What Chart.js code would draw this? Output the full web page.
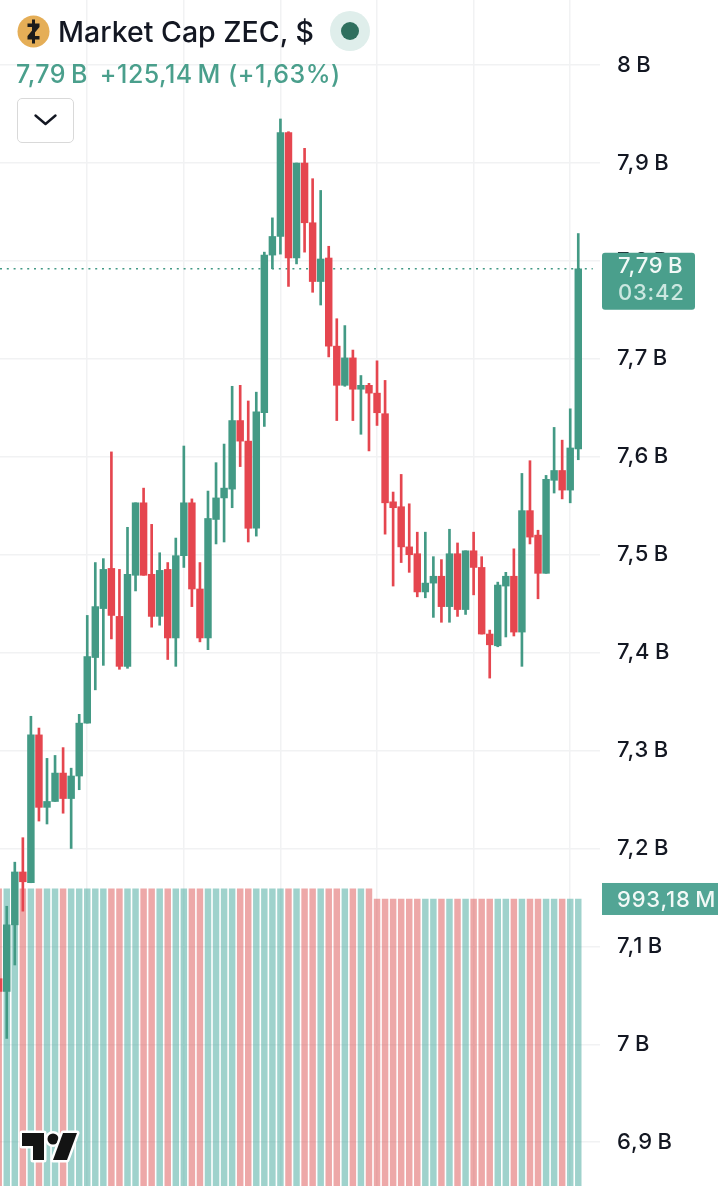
<!DOCTYPE html>
<html>
<head>
<meta charset="utf-8">
<title>Market Cap ZEC</title>
<script src="https://cdn.jsdelivr.net/npm/chart.js@4/dist/chart.umd.js"></script>
<style>
  html, body { margin: 0; padding: 0; background: #fff; }
  #wrap { position: relative; width: 718px; height: 1200px; overflow: hidden; font-family: Inter, sans-serif; }
  canvas { display: block; }
  #title { position: absolute; left: 58px; top: 15px; font-size: 28.5px; line-height: 34px; font-weight: 500; color: #131722; white-space: nowrap; }
  #quote { position: absolute; left: 16px; top: 60px; font-size: 25px; line-height: 28px; font-weight: 500; letter-spacing: 0.5px; color: #4a9f8c; white-space: nowrap; }
  #toggle { position: absolute; left: 17px; top: 98px; width: 55px; height: 43px; border: 1.5px solid #d9d9d9; border-radius: 5px; background: #fff; }
  .icon { position: absolute; }
</style>
</head>
<body>
<div id="wrap">
  <canvas id="chart" width="718" height="1200"></canvas>

  <svg class="icon" style="left:17px;top:15px" width="33" height="33" viewBox="0 0 33 33">
    <circle cx="16.5" cy="16.5" r="16" fill="#e5ae57"/>
    <path d="M10.5 8.5h12v3.5l-7.5 9h7.5v3.5h-12V21l7.5-9h-7.5z" fill="#1b1b1b"/>
    <rect x="15" y="4.5" width="3" height="24" fill="#1b1b1b"/>
  </svg>
  <div id="title">Market Cap ZEC, $</div>
  <svg class="icon" style="left:330px;top:11px" width="40" height="40" viewBox="0 0 40 40">
    <circle cx="20" cy="20" r="20" fill="#dfeeeb"/>
    <circle cx="20" cy="20" r="9" fill="#2f6f5e"/>
  </svg>
  <div id="quote">7,79&#8201;B&#8201; +125,14&#8201;M (+1,63%)</div>
  <div id="toggle"></div>
  <svg class="icon" style="left:33px;top:112px" width="25" height="16" viewBox="0 0 25 16">
    <path d="M2.5 3.5 12.5 12 22.5 3.5" fill="none" stroke="#131722" stroke-width="2.4" stroke-linecap="round" stroke-linejoin="round"/>
  </svg>
  <svg class="icon" style="left:19px;top:1129px" width="62" height="35" viewBox="0 0 62 35">
    <g stroke="#fff" stroke-width="5" stroke-linejoin="round" paint-order="stroke">
      <path d="M3 4H25V31H14V17H3z" fill="#131313"/>
      <circle cx="34" cy="10" r="5.5" fill="#131313"/>
      <path d="M44 4H58L48 31H34z" fill="#131313"/>
    </g>
  </svg>
</div>

<script>
const opens = [7.067, 7.054, 7.122, 7.176, 7.165, 7.316, 7.242, 7.248, 7.277, 7.251, 7.274, 7.328, 7.395, 7.445, 7.486, 7.437, 7.386, 7.479, 7.553, 7.480, 7.437, 7.485, 7.415, 7.499, 7.553, 7.465, 7.415, 7.536, 7.558, 7.567, 7.637, 7.616, 7.527, 7.645, 7.806, 7.825, 7.931, 7.803, 7.900, 7.839, 7.779, 7.803, 7.713, 7.673, 7.701, 7.669, 7.673, 7.665, 7.644, 7.554, 7.549, 7.508, 7.501, 7.462, 7.471, 7.478, 7.447, 7.501, 7.444, 7.504, 7.487, 7.419, 7.407, 7.468, 7.478, 7.421, 7.545, 7.520, 7.481, 7.576, 7.586, 7.566, 7.608];
const highs = [7.071, 7.141, 7.186, 7.211, 7.335, 7.323, 7.292, 7.295, 7.303, 7.282, 7.337, 7.438, 7.492, 7.496, 7.605, 7.485, 7.528, 7.553, 7.568, 7.531, 7.502, 7.492, 7.517, 7.611, 7.557, 7.492, 7.565, 7.594, 7.613, 7.672, 7.673, 7.657, 7.666, 7.809, 7.844, 7.945, 7.932, 7.900, 7.915, 7.884, 7.872, 7.815, 7.741, 7.734, 7.709, 7.683, 7.675, 7.698, 7.678, 7.564, 7.582, 7.552, 7.523, 7.523, 7.498, 7.495, 7.526, 7.512, 7.504, 7.523, 7.498, 7.423, 7.472, 7.482, 7.506, 7.583, 7.596, 7.525, 7.581, 7.630, 7.617, 7.649, 7.828];
const lows = [7.045, 7.006, 7.081, 7.136, 7.165, 7.228, 7.225, 7.248, 7.236, 7.200, 7.260, 7.328, 7.362, 7.387, 7.414, 7.383, 7.384, 7.463, 7.479, 7.426, 7.428, 7.393, 7.386, 7.487, 7.447, 7.411, 7.403, 7.511, 7.513, 7.548, 7.590, 7.513, 7.519, 7.631, 7.792, 7.807, 7.774, 7.797, 7.809, 7.768, 7.755, 7.702, 7.637, 7.672, 7.637, 7.623, 7.606, 7.632, 7.521, 7.468, 7.492, 7.482, 7.457, 7.456, 7.436, 7.431, 7.431, 7.437, 7.439, 7.459, 7.419, 7.374, 7.406, 7.416, 7.417, 7.386, 7.511, 7.455, 7.481, 7.563, 7.557, 7.553, 7.597];
const closes = [7.054, 7.122, 7.176, 7.166, 7.316, 7.242, 7.248, 7.277, 7.251, 7.274, 7.328, 7.396, 7.447, 7.485, 7.438, 7.386, 7.480, 7.553, 7.479, 7.437, 7.484, 7.415, 7.499, 7.553, 7.465, 7.415, 7.537, 7.558, 7.568, 7.637, 7.616, 7.527, 7.646, 7.806, 7.825, 7.931, 7.803, 7.900, 7.839, 7.779, 7.802, 7.713, 7.673, 7.701, 7.669, 7.673, 7.665, 7.645, 7.553, 7.548, 7.508, 7.500, 7.462, 7.471, 7.478, 7.447, 7.501, 7.444, 7.504, 7.487, 7.419, 7.408, 7.469, 7.478, 7.421, 7.545, 7.518, 7.481, 7.577, 7.586, 7.566, 7.609, 7.792];
// volume in millions, the two blocks are flat in the picture
const volumes = [1028, 1028, 1028, 1028, 1028, 1028, 1028, 1028, 1028, 1028, 1028, 1028, 1028, 1028, 1028, 1028, 1028, 1028, 1028, 1028, 1028, 1028, 1028, 1028, 1028, 1028, 1028, 1028, 1028, 1028, 1028, 1028, 1028, 1028, 1028, 1028, 1028, 1028, 1028, 1028, 1028, 1028, 1028, 1028, 1028, 1028, 1028, 993.18, 993.18, 993.18, 993.18, 993.18, 993.18, 993.18, 993.18, 993.18, 993.18, 993.18, 993.18, 993.18, 993.18, 993.18, 993.18, 993.18, 993.18, 993.18, 993.18, 993.18, 993.18, 993.18, 993.18, 993.18, 993.18];

const priceTicks = [6.9, 7, 7.1, 7.2, 7.3, 7.4, 7.5, 7.6, 7.7, 7.8, 7.9, 8];
const priceTickLabels = ["6,9\u2009B", "7\u2009B", "7,1\u2009B", "7,2\u2009B", "7,3\u2009B", "7,4\u2009B", "7,5\u2009B", "7,6\u2009B", "7,7\u2009B", "7,8\u2009B", "7,9\u2009B", "8\u2009B"];
const timeTicks = [12, 24, 36, 48, 60, 72];

const lastPrice = closes[closes.length - 1];
const lastVolume = volumes[volumes.length - 1];

const GREEN = "#439a85";
const RED = "#e5464f";
const isUp = closes.map((c, i) => c >= opens[i]);
const candleColors = isUp.map(u => (u ? GREEN : RED));
const volumeColors = isUp.map(u => (u ? "rgba(64,166,153,0.5)" : "rgba(220,82,82,0.5)"));

// last price / last volume tags sit on the price scale
const priceTags = {
  id: "priceTags",
  beforeDraw(chart) {
    chart.ctx.letterSpacing = "0.8px";
  },
  afterDraw(chart) {
    const ctx = chart.ctx;
    const y = chart.scales.y.getPixelForValue(lastPrice);
    const yVol = chart.scales.volume.getPixelForValue(lastVolume);
    ctx.save();
    ctx.fillStyle = "#4a9f8c";
    ctx.beginPath();
    ctx.roundRect(602, y - 16, 93, 57, 3);
    ctx.fill();
    ctx.textBaseline = "middle";
    ctx.textAlign = "left";
    ctx.font = "500 22px Inter";
    ctx.fillStyle = "#f2f9f7";
    ctx.fillText("7,79\u2009B", 618, y - 2);
    ctx.fillStyle = "#cbe7e0";
    ctx.fillText("03:42", 618, y + 25);
    ctx.fillStyle = "#52a595";
    ctx.fillRect(602, yVol - 16, 116, 32);
    ctx.fillStyle = "#f2f9f7";
    ctx.fillText("993,18\u2009M", 617, yVol + 1);
    ctx.restore();
  }
};

new Chart(document.getElementById("chart"), {
  data: {
    datasets: [
      {
        type: "bar",
        label: "Body",
        data: opens.map((o, i) => ({ x: i + 1, y: [o, closes[i]] })),
        backgroundColor: candleColors,
        barThickness: 6.8,
        grouped: false,
        yAxisID: "y",
        order: 1
      },
      {
        type: "bar",
        label: "Wick",
        data: lows.map((l, i) => ({ x: i + 1, y: [l, highs[i]] })),
        backgroundColor: candleColors,
        barThickness: 2,
        grouped: false,
        yAxisID: "y",
        order: 2
      },
      {
        type: "line",
        label: "Last",
        data: [{ x: 1.161, y: lastPrice }, { x: 74.8, y: lastPrice }],
        borderColor: GREEN,
        borderWidth: 1.6,
        borderDash: [2, 4.8],
        pointRadius: 0,
        yAxisID: "y",
        order: 3
      },
      {
        type: "bar",
        label: "Volume",
        data: volumes.map((v, i) => ({ x: i + 1, y: v })),
        backgroundColor: volumeColors,
        barThickness: 5.8,
        grouped: false,
        yAxisID: "volume",
        order: 4
      }
    ]
  },
  options: {
    responsive: false,
    animation: false,
    layout: { autoPadding: false, padding: { bottom: 14 } },
    plugins: { legend: { display: false }, tooltip: { enabled: false } },
    scales: {
      x: {
        type: "linear",
        offset: false,
        min: 1.161,
        max: 75.7,
        afterBuildTicks: scale => { scale.ticks = timeTicks.map(v => ({ value: v })); },
        afterFit: scale => { scale.height = 0; },
        ticks: { display: false },
        border: { display: false },
        grid: { offset: false, color: "#f1f2f3", lineWidth: 1.5, drawTicks: false }
      },
      y: {
        position: "right",
        min: 6.8553,
        max: 8.0665,
        afterBuildTicks: scale => { scale.ticks = priceTicks.map(v => ({ value: v })); },
        afterFit: scale => { scale.width = 118; scale.paddingTop = 0; scale.paddingBottom = 0; },
        ticks: {
          autoSkip: false,
          padding: 17,
          color: "#131722",
          font: { family: "Inter", size: 22, weight: "500" },
          callback: (value, i) => priceTickLabels[i]
        },
        border: { display: false },
        grid: { color: "#f1f2f3", lineWidth: 1.5, drawTicks: false }
      },
      volume: {
        display: false,
        min: 0,
        max: 4104
      }
    }
  },
  plugins: [priceTags]
});
</script>
</body>
</html>
